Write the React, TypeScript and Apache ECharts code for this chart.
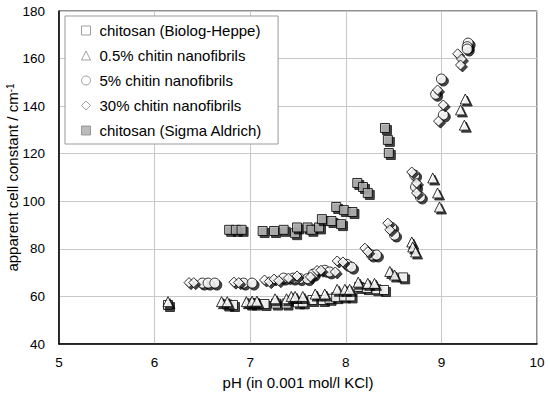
import React, { useEffect, useRef } from "react";
import * as echarts from "echarts";

const xTicks = [5, 6, 7, 8, 9, 10];
const yTicks = [40, 60, 80, 100, 120, 140, 160, 180];

const seriesNames = [
  "chitosan (Biolog-Heppe)",
  "0.5% chitin nanofibrils",
  "5% chitin nanofibrils",
  "30% chitin nanofibrils",
  "chitosan (Sigma Aldrich)",
];

const biologHeppe = [
  [6.14, 56.4], [6.76, 56.6], [6.82, 56.4], [7.0, 57], [7.05, 57], [7.15, 56.8],
  [7.27, 57], [7.38, 57], [7.5, 57.5], [7.55, 57.5], [7.65, 58.5], [7.76, 58.5],
  [7.83, 59], [7.9, 59.7], [7.98, 60], [8.05, 60], [8.14, 64], [8.22, 63.5],
  [8.32, 63], [8.4, 62.7], [8.6, 68],
];

const chitin05 = [
  [6.14, 57.8], [6.7, 57.8], [6.76, 57.8], [6.96, 57.8], [7.02, 58], [7.07, 58],
  [7.26, 59], [7.38, 59], [7.43, 60], [7.47, 60], [7.55, 60], [7.68, 61],
  [7.78, 61], [7.91, 63], [7.99, 63], [8.04, 63], [8.13, 66], [8.23, 65.5],
  [8.3, 65.5], [8.46, 70.5], [8.51, 69], [8.69, 82.9], [8.7, 80.8], [8.73, 78.7],
  [8.91, 109.8], [8.96, 103.5], [8.98, 97.6], [9.25, 143], [9.2, 138.4], [9.24, 132],
];

const chitin5 = [
  [6.5, 65.6], [6.56, 65.6], [6.63, 65.6], [6.93, 65.6], [7.02, 65.6], [7.35, 67.7],
  [7.45, 67.7], [7.52, 67.5], [7.6, 67.5], [7.66, 69.4], [7.78, 71], [7.83, 70.3],
  [8.01, 73.5], [8.06, 72.3], [8.27, 77.4], [8.32, 77.4], [8.48, 89], [8.51, 85.8],
  [8.72, 111], [8.73, 106], [8.78, 101.8], [9.0, 151.4], [8.94, 145], [9.02, 136.3],
  [9.28, 166.5], [9.27, 165], [9.27, 164],
];

const chitin30 = [
  [6.36, 65.8], [6.41, 65.8], [6.83, 66], [6.88, 65.8], [7.15, 66.9], [7.2, 66.2],
  [7.25, 67.3], [7.3, 66.6], [7.4, 67.7], [7.49, 68.6], [7.63, 68.2], [7.7, 70.9],
  [7.74, 71], [7.89, 70.3], [7.91, 74.9], [7.97, 74.5], [8.2, 80.3], [8.23, 78.8],
  [8.44, 90.8], [8.46, 88], [8.69, 112.3], [8.74, 107.7], [8.74, 103.5], [8.96, 146.8],
  [9.02, 140.5], [8.97, 133.7], [9.17, 162], [9.21, 159.8], [9.2, 157.3],
];

const sigmaAldrich = [
  [6.78, 88], [6.85, 88], [6.91, 88], [7.13, 87.5], [7.25, 87.5], [7.35, 88],
  [7.47, 86.6], [7.49, 89], [7.6, 89], [7.64, 88], [7.72, 89], [7.75, 92.5],
  [7.85, 91.7], [7.95, 90.4], [7.9, 97.6], [7.98, 96.3], [8.07, 95.5], [8.12, 107.7],
  [8.18, 106], [8.23, 103.5], [8.41, 130.8], [8.44, 125.8], [8.45, 120.3],
];

const FONT = "Liberation Sans, Arial, sans-serif";

export default function App() {
  const ref = useRef<HTMLDivElement>(null);
  useEffect(() => {
    if (!ref.current) return;
    const chart = echarts.init(ref.current, null, { renderer: "svg" });
    const shadow = {
      shadowColor: "rgba(0,0,0,0.9)",
      shadowOffsetX: 2,
      shadowOffsetY: 2,
      shadowBlur: 1,
    };
    const mk = (name: string, data: number[][], symbol: string, size: number, fill: string) => ({
      name,
      type: "scatter",
      data,
      symbol,
      symbolSize: size,
      itemStyle: { color: fill, borderColor: "#000", borderWidth: 1, ...shadow },
      emphasis: { disabled: true },
    });
    const legendIcon = (fill: string) => ({
      color: fill,
      borderColor: "#888",
      borderWidth: 1,
      shadowColor: "transparent",
      shadowBlur: 0,
      shadowOffsetX: 0,
      shadowOffsetY: 0,
    });
    chart.setOption({
      animation: false,
      grid: {
        left: 59,
        right: 13,
        top: 11,
        bottom: 51,
        show: true,
        borderColor: "#222",
        borderWidth: 1,
        backgroundColor: "transparent",
        outerBoundsMode: "none",
        containLabel: false,
      },
      legend: {
        orient: "vertical",
        left: 65,
        top: 16,
        padding: [7, 16, 6, 16],
        itemGap: 10,
        itemWidth: 9,
        itemHeight: 9,
        borderColor: "#999",
        borderWidth: 1,
        backgroundColor: "#fff",
        textStyle: { fontFamily: FONT, fontSize: 15, color: "#000", padding: [0, 0, 0, 4] },
        data: [
          { name: seriesNames[0], icon: "rect", itemStyle: legendIcon("#fff") },
          { name: seriesNames[1], icon: "triangle", itemStyle: legendIcon("#fff") },
          { name: seriesNames[2], icon: "circle", itemStyle: legendIcon("#fff") },
          { name: seriesNames[3], icon: "diamond", itemStyle: legendIcon("#fff") },
          { name: seriesNames[4], icon: "rect", itemStyle: legendIcon("#aaa") },
        ],
      },
      xAxis: {
        type: "value",
        min: xTicks[0],
        max: xTicks[xTicks.length - 1],
        interval: 1,
        name: "pH (in 0.001 mol/l KCl)",
        nameLocation: "middle",
        nameGap: 31,
        nameMoveOverlap: false,
        nameTextStyle: { fontFamily: FONT, fontSize: 15, color: "#000" },
        axisLine: { show: true, lineStyle: { color: "#000", width: 1.5 } },
        axisTick: { show: false },
        axisLabel: { fontFamily: FONT, fontSize: 13.5, color: "#000", margin: 11 },
        splitLine: { show: true, lineStyle: { color: "#c8c8c8", width: 1 } },
      },
      yAxis: {
        type: "value",
        min: yTicks[0],
        max: yTicks[yTicks.length - 1],
        interval: 20,
        name: "{a|apparent cell constant / cm}{s|-1}",
        nameLocation: "middle",
        nameGap: 39,
        nameRotate: 90,
        nameMoveOverlap: false,
        nameTextStyle: {
          fontFamily: FONT,
          fontSize: 15,
          color: "#000",
          rich: {
            a: { fontFamily: FONT, fontSize: 15, lineHeight: 15, color: "#000" },
            s: { fontFamily: FONT, fontSize: 10, lineHeight: 10, color: "#000", verticalAlign: "top" },
          },
        },
        axisLine: { show: true, lineStyle: { color: "#000", width: 1.5 } },
        axisTick: { show: false },
        axisLabel: { fontFamily: FONT, fontSize: 13.5, color: "#000", margin: 14 },
        splitLine: { show: true, lineStyle: { color: "#c8c8c8", width: 1 } },
      },
      series: [
        mk(seriesNames[4], sigmaAldrich, "rect", 9, "#b0b0b0"),
        mk(seriesNames[0], biologHeppe, "rect", 9, "#fff"),
        mk(seriesNames[1], chitin05, "triangle", 10, "#fff"),
        mk(seriesNames[2], chitin5, "circle", 10, "#fff"),
        mk(seriesNames[3], chitin30, "diamond", 10, "#fff"),
      ],
    });
    return () => chart.dispose();
  }, []);
  return <div ref={ref} style={{ width: 550, height: 395, position: "absolute", left: 0, top: 0 }} />;
}
